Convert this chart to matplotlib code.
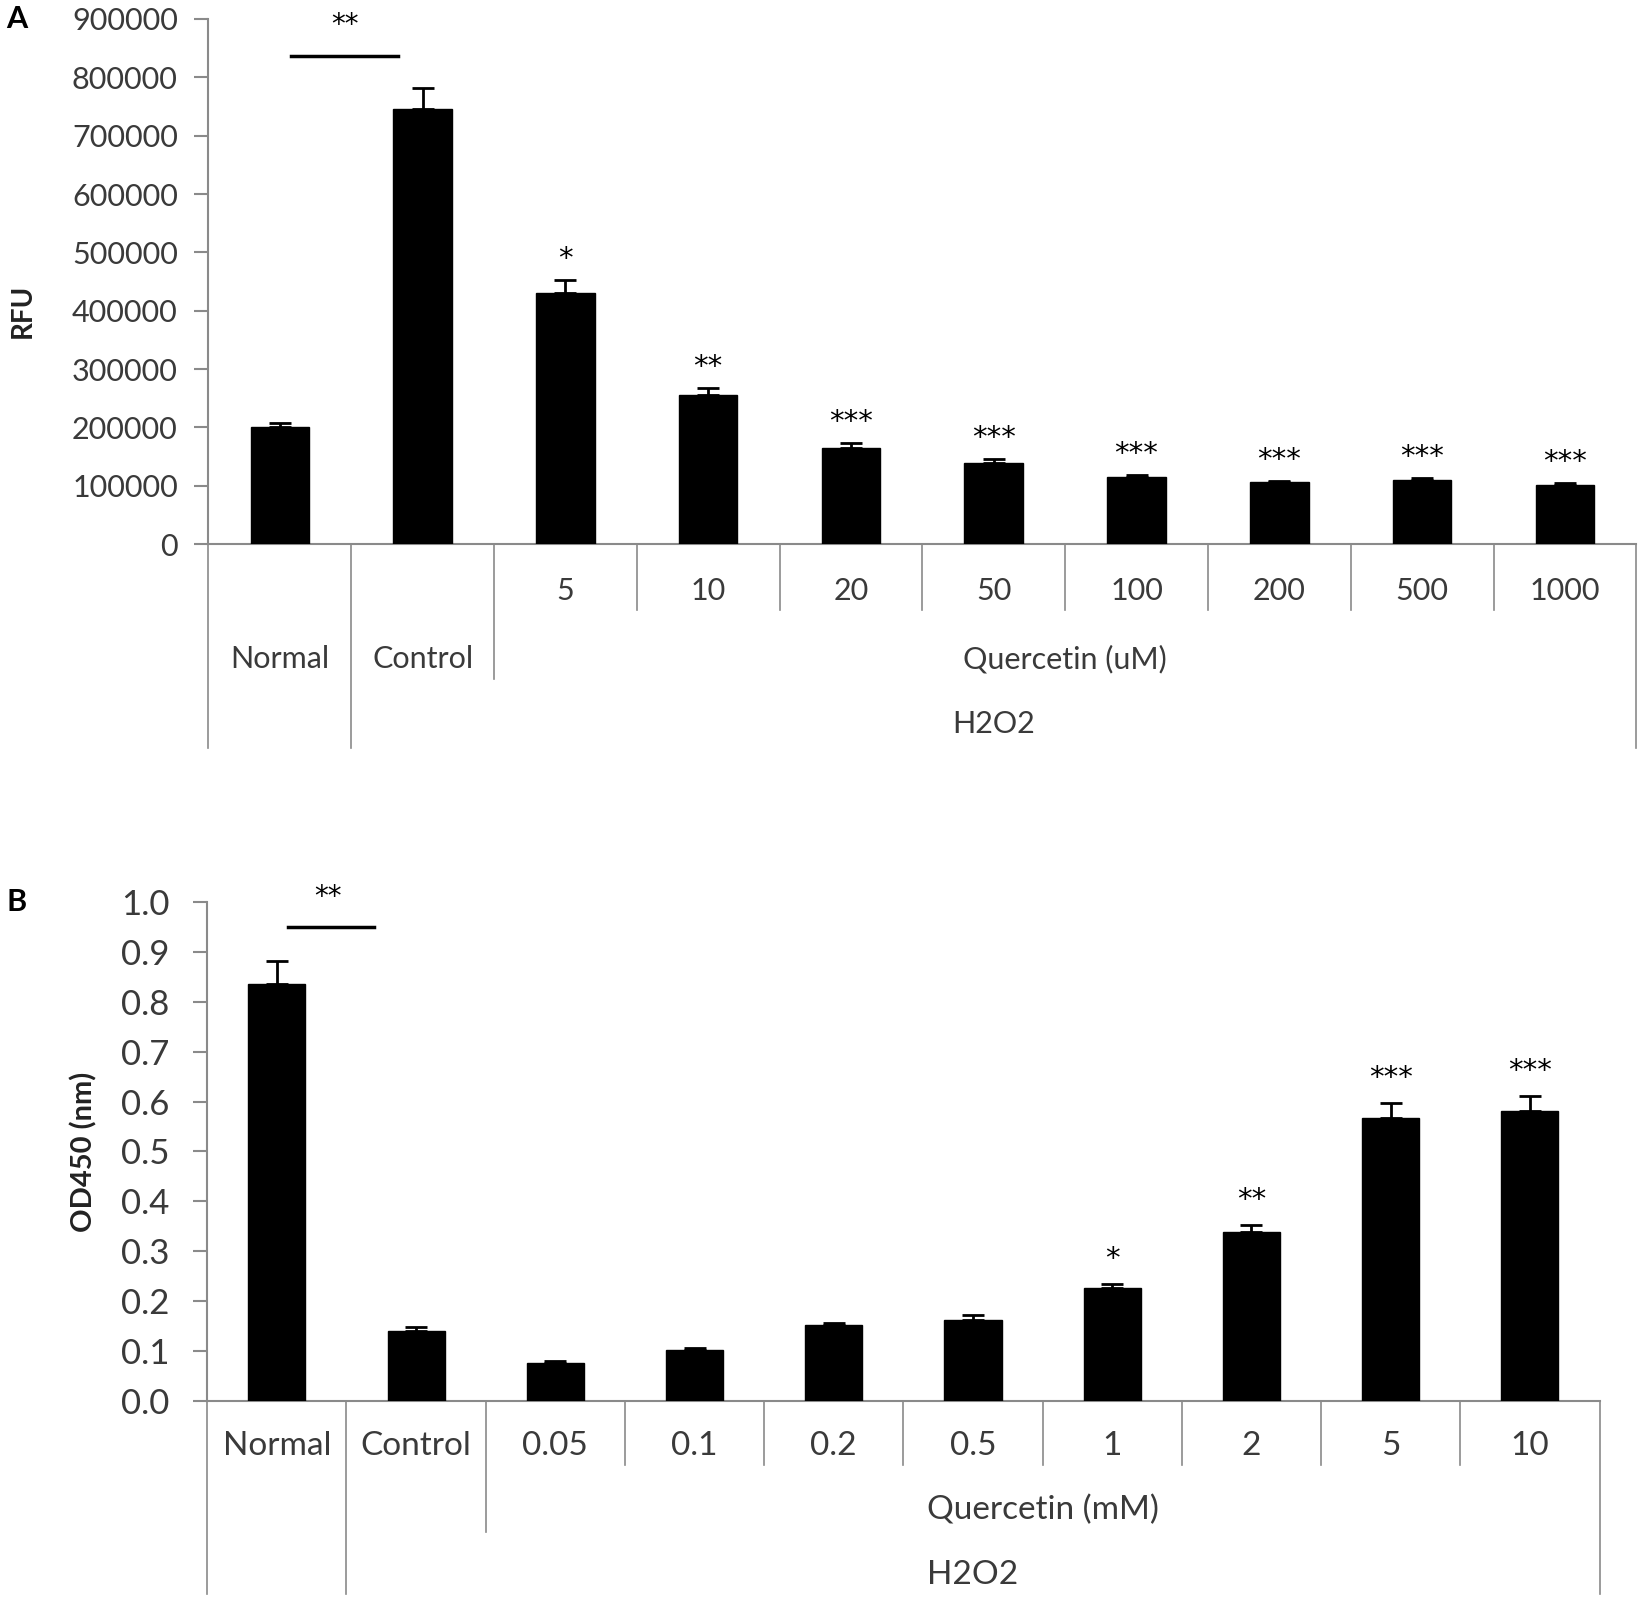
import matplotlib.pyplot as plt
import matplotlib.transforms as mtransforms
import numpy as np

plt.rcParams['font.family'] = ['Lato', 'DejaVu Sans']

# panel A: ROS fluorescence
groups_a = ['Normal', 'Control', '5', '10', '20', '50', '100', '200', '500', '1000']
rfu = [200000, 746000, 431000, 255000, 164000, 139000, 115000, 106000, 110000, 101000]
rfu_err = [8000, 36000, 22000, 13000, 9000, 7000, 3000, 3000, 4000, 4000]
stars_a = ['', '', '*', '**', '***', '***', '***', '***', '***', '***']

# panel B: cell viability
groups_b = ['Normal', 'Control', '0.05', '0.1', '0.2', '0.5', '1', '2', '5', '10']
od450 = [0.836, 0.141, 0.076, 0.101, 0.152, 0.162, 0.226, 0.338, 0.567, 0.582]
od_err = [0.045, 0.008, 0.004, 0.005, 0.004, 0.010, 0.009, 0.014, 0.030, 0.030]
stars_b = ['', '', '', '', '', '', '*', '**', '***', '***']

GRAY = '#8a8a8a'
TXT = '#3a3a3a'

fig = plt.figure(figsize=(16.5, 16.03), dpi=100)


def draw_panel(ax, vals, errs, stars, ymax, yticks, star_off, tick_fs, pad):
    x = np.arange(len(vals))
    ax.bar(x, vals, width=0.41, color='black', edgecolor='black', zorder=3)
    ax.errorbar(x, vals, yerr=[np.zeros(len(vals)), errs], fmt='none',
                ecolor='black', elinewidth=2, capsize=8, capthick=2, zorder=2)
    for xi, v, e, s in zip(x, vals, errs, stars):
        if s:
            ax.text(xi, v + e + star_off, s, ha='center', va='center',
                    fontsize=21, color='black', family='DejaVu Sans')
    ax.set_xlim(-0.5, len(vals) - 0.5)
    ax.set_ylim(0, ymax)
    ax.set_yticks(yticks)
    ax.set_xticks([])
    for side in ['top', 'right']:
        ax.spines[side].set_visible(False)
    ax.spines['left'].set_color(GRAY)
    ax.spines['bottom'].set_color(GRAY)
    ax.spines['left'].set_linewidth(1.5)
    ax.spines['bottom'].set_linewidth(1.5)
    ax.tick_params(axis='y', direction='out', length=10, width=1.5, color=GRAY,
                   labelsize=tick_fs, labelcolor=TXT, pad=pad)


def vline(ax, xpos, depth):
    tr = mtransforms.blended_transform_factory(ax.transData, ax.transAxes)
    ax.plot([xpos, xpos], [0, depth], transform=tr, color=GRAY, lw=1.2, clip_on=False)


def label(ax, xpos, ypos, s, fs):
    tr = mtransforms.blended_transform_factory(ax.transData, ax.transAxes)
    ax.text(xpos, ypos, s, transform=tr, ha='center', va='center', fontsize=fs, color=TXT)


# ---- panel A ----
axA = fig.add_axes([0.1263, 0.6605, 0.8654, 0.3277])
draw_panel(axA, rfu, rfu_err, stars_a, 900000, np.arange(0, 900001, 100000), 36000, 22, 12)
axA.yaxis.set_major_formatter(plt.FuncFormatter(lambda v, p: f'{int(v)}'))
axA.set_ylabel('RFU', fontsize=20, fontweight='bold', color='#222222', va='center')
axA.yaxis.set_label_coords(-0.1297, 0.445)
# separators
vline(axA, -0.5, -0.387)
vline(axA, 0.5, -0.387)
vline(axA, 1.5, -0.257)
for b in np.arange(2.5, 9.0, 1.0):
    vline(axA, b, -0.126)
vline(axA, 9.5, -0.387)
for i in range(2, 10):
    label(axA, i, -0.09, groups_a[i], 22)
label(axA, 0, -0.218, groups_a[0], 22)
label(axA, 1, -0.218, groups_a[1], 22)
label(axA, 5.5, -0.218, 'Quercetin (uM)', 22)
label(axA, 5.0, -0.343, 'H2O2', 22)
# significance bar Normal vs Control
axA.plot([0.08, 0.83], [836000, 836000], color='black', lw=2.5, clip_on=False)
axA.text(0.455, 890000, '**', ha='center', va='center', fontsize=20, family='DejaVu Sans')
fig.text(0.004, 0.988, 'A', fontsize=22, fontweight='bold', va='center')

# ---- panel B ----
axB = fig.add_axes([0.1256, 0.1261, 0.8438, 0.3112])
draw_panel(axB, od450, od_err, stars_b, 1.0, np.arange(0, 1.01, 0.1), 0.05, 25, 17)
axB.yaxis.set_major_formatter(plt.FuncFormatter(lambda v, p: f'{v:.1f}'))
axB.set_ylabel('OD450 (nm)', fontsize=21, fontweight='bold', color='#222222', va='center')
axB.yaxis.set_label_coords(-0.0884, 0.5)
vline(axB, -0.5, -0.388)
vline(axB, 0.5, -0.388)
vline(axB, 1.5, -0.262)
for b in np.arange(2.5, 9.0, 1.0):
    vline(axB, b, -0.129)
vline(axB, 9.5, -0.388)
for i in range(10):
    label(axB, i, -0.091, groups_b[i], 24)
label(axB, 5.5, -0.219, 'Quercetin (mM)', 24)
label(axB, 5.0, -0.350, 'H2O2', 24)
axB.plot([0.08, 0.70], [0.949, 0.949], color='black', lw=2.5, clip_on=False)
axB.text(0.37, 1.01, '**', ha='center', va='center', fontsize=20, family='DejaVu Sans')
fig.text(0.004, 0.437, 'B', fontsize=22, fontweight='bold', va='center')

fig.savefig('out.png', dpi=100, facecolor='white')
